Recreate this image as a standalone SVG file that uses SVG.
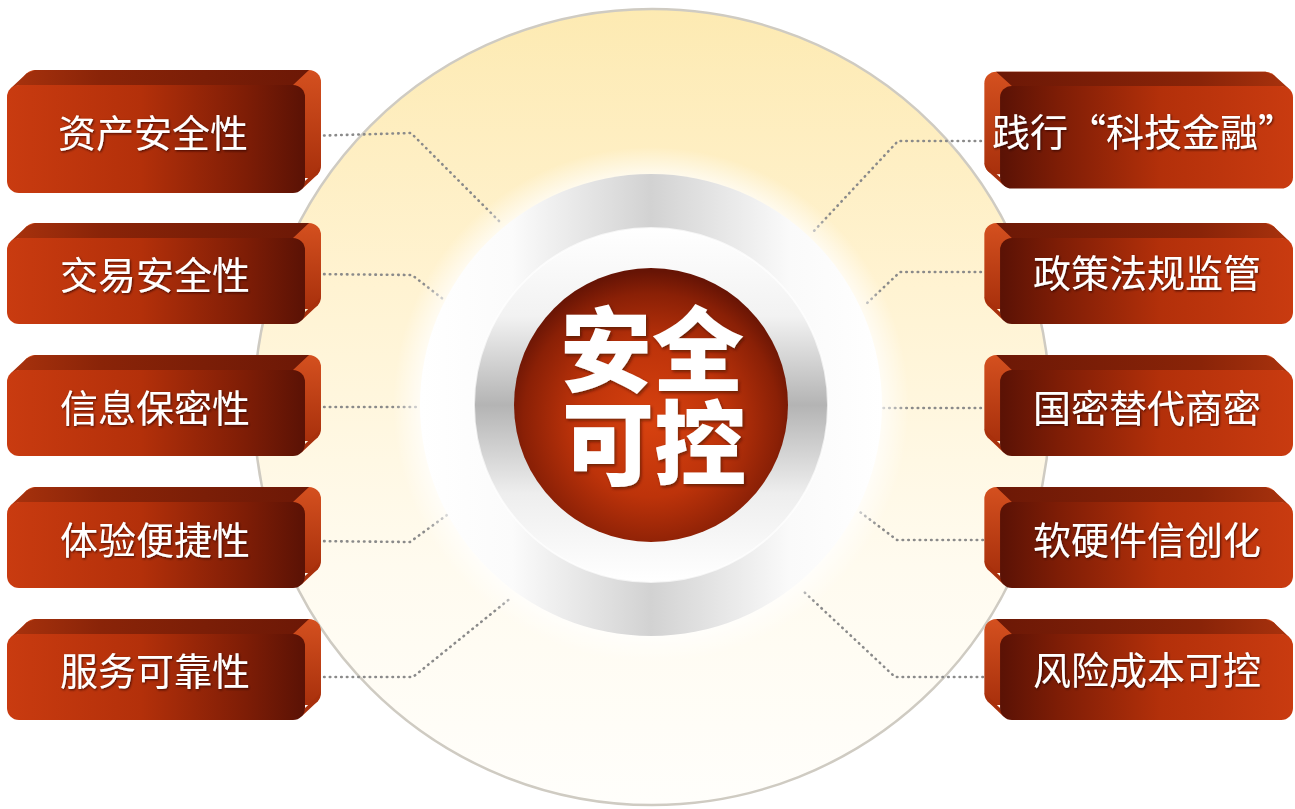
<svg xmlns="http://www.w3.org/2000/svg" xmlns:xlink="http://www.w3.org/1999/xlink" width="1295" height="809" viewBox="0 0 1295 809">
<defs>
<style>
.lbl{font-family:"Noto Sans CJK SC","Noto Sans",sans-serif;font-size:38px;fill:#ffffff;text-anchor:middle;dominant-baseline:central;filter:url(#ts)}
.big{font-family:"Noto Sans CJK SC","Noto Sans",sans-serif;font-size:92px;font-weight:900;fill:#ffffff;text-anchor:middle;dominant-baseline:central;filter:url(#ts2)}
.dot{fill:none;stroke:#8a8a8a;stroke-width:2.6;stroke-linecap:round;stroke-linejoin:round;stroke-dasharray:0.5 5.2}
</style>
<filter id="ts" x="-10%" y="-20%" width="120%" height="140%"><feDropShadow dx="1" dy="1.2" stdDeviation="0.8" flood-color="#2a0600" flood-opacity="0.75"/></filter>
<filter id="ts2" x="-10%" y="-10%" width="120%" height="120%"><feDropShadow dx="1.5" dy="2" stdDeviation="1.5" flood-color="#3a0800" flood-opacity="0.6"/></filter>
<linearGradient id="gBig" x1="0" y1="0" x2="0" y2="1">
<stop offset="0" stop-color="#fdeab2"/><stop offset="0.35" stop-color="#fff3d2"/><stop offset="0.7" stop-color="#fffbef"/><stop offset="1" stop-color="#fffefb"/>
</linearGradient>
<radialGradient id="gGlow" cx="0.5" cy="0.5" r="0.5">
<stop offset="0.86" stop-color="#ffffff" stop-opacity="1"/><stop offset="1" stop-color="#ffffff" stop-opacity="0"/>
</radialGradient>
<linearGradient id="gOuter" x1="0" y1="0" x2="1" y2="0">
<stop offset="0" stop-color="#ffffff"/><stop offset="0.2" stop-color="#fbfbfb"/><stop offset="0.5" stop-color="#d2d2d2"/><stop offset="0.8" stop-color="#fafafa"/><stop offset="1" stop-color="#ffffff"/>
</linearGradient>
<linearGradient id="gInner" x1="0" y1="0" x2="0" y2="1">
<stop offset="0" stop-color="#ffffff"/><stop offset="0.25" stop-color="#f2f2f2"/><stop offset="0.5" stop-color="#b4b4b4"/><stop offset="0.75" stop-color="#eeeeee"/><stop offset="1" stop-color="#ffffff"/>
</linearGradient>
<radialGradient id="gRed" cx="0.5" cy="0.56" r="0.55">
<stop offset="0" stop-color="#d8420f"/><stop offset="0.5" stop-color="#bd330a"/><stop offset="0.85" stop-color="#8a2006"/><stop offset="1" stop-color="#661405"/>
</radialGradient>
<linearGradient id="gFront" x1="0" y1="0" x2="1" y2="0">
<stop offset="0" stop-color="#c93b10"/><stop offset="0.45" stop-color="#b3300a"/><stop offset="0.8" stop-color="#7e1d06"/><stop offset="1" stop-color="#5a1205"/>
</linearGradient>
<linearGradient id="gTop" x1="0" y1="0" x2="1" y2="0">
<stop offset="0" stop-color="#a8320d"/><stop offset="0.3" stop-color="#8a2408"/><stop offset="1" stop-color="#6c1806"/>
</linearGradient>
<linearGradient id="gSide" x1="0" y1="0" x2="0" y2="1">
<stop offset="0" stop-color="#d4501f"/><stop offset="1" stop-color="#a8300c"/>
</linearGradient>
<g id="boxA">
<rect x="16" y="-15" width="298" height="86" rx="12" fill="url(#gSide)"/>
<polygon points="298,74 314,59 310.5,67.5 294.5,82.5" fill="#a8300c"/>
<polygon points="3.5,3.5 19.5,-11.5 28,-15 302,-15 286,0 12,0" fill="url(#gTop)"/>
<rect x="0" y="0" width="298" height="86" rx="12" fill="url(#gFront)"/>
</g>
<g id="boxB">
<rect x="16" y="-15" width="298" height="108" rx="12" fill="url(#gSide)"/>
<polygon points="298,96 314,81 310.5,89.5 294.5,104.5" fill="#a8300c"/>
<polygon points="3.5,3.5 19.5,-11.5 28,-15 302,-15 286,0 12,0" fill="url(#gTop)"/>
<rect x="0" y="0" width="298" height="108" rx="12" fill="url(#gFront)"/>
</g>
</defs>
<rect width="1295" height="809" fill="#ffffff"/>
<g id="backdrop">
<circle cx="652" cy="407" r="398" fill="url(#gBig)" stroke="#cfcbc2" stroke-width="2.5"/>
</g>
<g id="connectors">
<path class="dot" d="M307,136 L411,133 L500,222"/>
<path class="dot" d="M307,274 L412,275 L443,299"/>
<path class="dot" d="M307,407 L420,407"/>
<path class="dot" d="M307,541 L410,542 L447,515"/>
<path class="dot" d="M307,677 L413,677 L512,597"/>
<path class="dot" d="M998,141 L898,141 L813,232"/>
<path class="dot" d="M998,272 L900,272 L865,305"/>
<path class="dot" d="M998,408 L882,408"/>
<path class="dot" d="M1000,540 L897,540 L860,512"/>
<path class="dot" d="M1000,677 L895,677 L802,590"/>
</g>
<g id="center">
<circle cx="651" cy="405" r="258" fill="url(#gGlow)" opacity="0.9"/>
<circle cx="651" cy="405" r="231" fill="url(#gOuter)"/>
<circle cx="651" cy="405" r="177" fill="url(#gInner)"/>
<circle cx="651" cy="405" r="177" fill="none" stroke="#ffffff" stroke-width="2" opacity="0.7"/>
<circle cx="651" cy="405" r="137" fill="url(#gRed)"/>
<text class="big"><tspan x="652" y="343">安全</tspan><tspan x="654" y="437">可控</tspan></text>
</g>
<g id="left-1"><use xlink:href="#boxB" href="#boxB" transform="translate(7,85)"/><text class="lbl" x="153" y="130">资产安全性</text></g>
<g id="left-2"><use xlink:href="#boxA" href="#boxA" transform="translate(7,238)"/><text class="lbl" x="155" y="272">交易安全性</text></g>
<g id="left-3"><use xlink:href="#boxA" href="#boxA" transform="translate(7,370)"/><text class="lbl" x="155" y="405">信息保密性</text></g>
<g id="left-4"><use xlink:href="#boxA" href="#boxA" transform="translate(7,502)"/><text class="lbl" x="155" y="537">体验便捷性</text></g>
<g id="left-5"><use xlink:href="#boxA" href="#boxA" transform="translate(7,634)"/><text class="lbl" x="155" y="668">服务可靠性</text></g>
<g id="right-1"><use xlink:href="#boxB" href="#boxB" transform="translate(1293,86) scale(-0.983,0.95)"/><text class="lbl" x="1144" y="129">践行“科技金融”</text></g>
<g id="right-2"><use xlink:href="#boxA" href="#boxA" transform="translate(1293,238) scale(-0.983,1)"/><text class="lbl" x="1147" y="270">政策法规监管</text></g>
<g id="right-3"><use xlink:href="#boxA" href="#boxA" transform="translate(1293,370) scale(-0.983,1)"/><text class="lbl" x="1147" y="405">国密替代商密</text></g>
<g id="right-4"><use xlink:href="#boxA" href="#boxA" transform="translate(1293,502) scale(-0.983,1)"/><text class="lbl" x="1147" y="537">软硬件信创化</text></g>
<g id="right-5"><use xlink:href="#boxA" href="#boxA" transform="translate(1293,634) scale(-0.983,1)"/><text class="lbl" x="1147" y="667">风险成本可控</text></g>
</svg>
